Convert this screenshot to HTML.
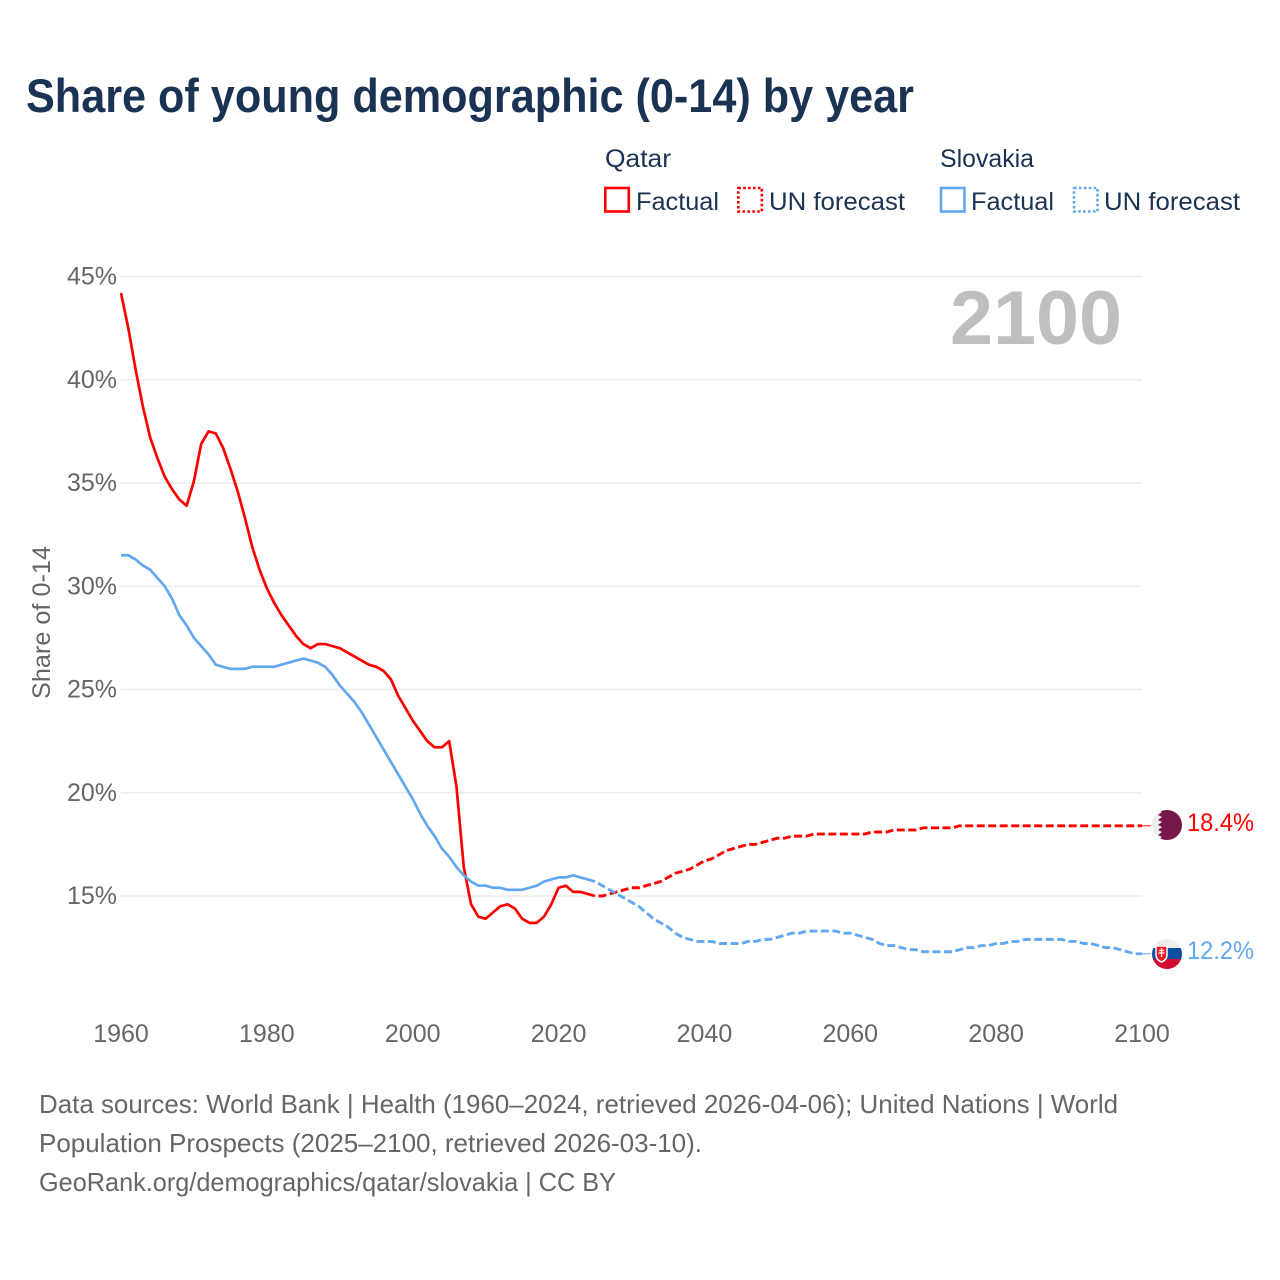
<!DOCTYPE html>
<html lang="en">
<head>
<meta charset="utf-8">
<title>Share of young demographic (0-14) by year</title>
<style>
html,body{margin:0;padding:0;background:#fff}
svg{display:block;font-family:"Liberation Sans",sans-serif}
.leg{font-size:25px;fill:#1a3352}
.foot{font-size:26px;fill:#666}
.tick{font-size:25px;fill:#666}
</style>
</head>
<body>
<svg id="chart" xmlns="http://www.w3.org/2000/svg" width="1280" height="1280" viewBox="0 0 1280 1280">
<rect width="1280" height="1280" fill="#fff"/>
<text x="26" y="112" font-size="47" font-weight="700" fill="#1a3352" textLength="888" lengthAdjust="spacingAndGlyphs">Share of young demographic (0-14) by year</text>

<g>
<text class="leg" x="605" y="167" textLength="66" lengthAdjust="spacingAndGlyphs">Qatar</text>
<rect x="605.300" y="188" width="23.500" height="23.500" fill="none" stroke="#ff0000" stroke-width="2.600"/>
<text class="leg" x="636" y="210" textLength="83" lengthAdjust="spacingAndGlyphs">Factual</text>
<rect x="738.300" y="188" width="23.500" height="23.500" fill="none" stroke="#ff0000" stroke-width="2.600" stroke-dasharray="2.600 2.300"/>
<text class="leg" x="769" y="210" textLength="136" lengthAdjust="spacingAndGlyphs">UN forecast</text>
<text class="leg" x="940" y="167" textLength="94" lengthAdjust="spacingAndGlyphs">Slovakia</text>
<rect x="941" y="188" width="23.500" height="23.500" fill="none" stroke="#62a8ee" stroke-width="2.600"/>
<text class="leg" x="971" y="210" textLength="83" lengthAdjust="spacingAndGlyphs">Factual</text>
<rect x="1074" y="188" width="23.500" height="23.500" fill="none" stroke="#62a8ee" stroke-width="2.600" stroke-dasharray="2.600 2.300"/>
<text class="leg" x="1104" y="210" textLength="136" lengthAdjust="spacingAndGlyphs">UN forecast</text>
</g>

<g id="grid"></g>
<g id="yticks"></g>
<g id="xticks"></g>

<text x="1122" y="344" font-size="76" font-weight="700" fill="#bfbfbf" text-anchor="end" textLength="172" lengthAdjust="spacingAndGlyphs">2100</text>
<text transform="translate(50,699) rotate(-90)" font-size="25" fill="#666" textLength="153" lengthAdjust="spacingAndGlyphs">Share of 0-14</text>

<g id="series"></g>

<defs>
<clipPath id="clip-qa"><circle cx="1167" cy="825" r="15"/></clipPath>
<clipPath id="clip-sk"><circle cx="1167" cy="954" r="15"/></clipPath>
</defs>
<g clip-path="url(#clip-qa)">
<rect x="1152" y="810" width="30" height="30" fill="#eeeeee"/>
<polygon points="1182,810 1158,810 1162,812 1158,815 1162,817 1158,820 1162,822 1158,825 1162,827 1158,830 1162,832 1158,835 1162,837 1158,840 1182,840" fill="#76184a"/>
</g>
<g clip-path="url(#clip-sk)">
<rect x="1152" y="939" width="30" height="9" fill="#eeeeee"/>
<rect x="1152" y="948" width="30" height="11" fill="#0b4ea2"/>
<rect x="1152" y="959" width="30" height="10" fill="#d00c33"/>
<path d="M1156 946h11v9c0 4-3 6-5.500 7-2.500-1-5.500-3-5.500-7z" fill="#ee1c25" stroke="#fff" stroke-width="1.500"/>
<path d="M1161.500 948v9M1159 950.500h5M1158.500 953h6" stroke="#fff" stroke-width="1.200" fill="none"/>
</g>

<text x="1187" y="831" font-size="25" fill="#ff0000" textLength="67" lengthAdjust="spacingAndGlyphs">18.4%</text>
<text x="1187" y="959" font-size="25" fill="#62a8ee" textLength="67" lengthAdjust="spacingAndGlyphs">12.2%</text>

<g>
<text class="foot" x="39" y="1113" textLength="1079" lengthAdjust="spacingAndGlyphs">Data sources: World Bank | Health (1960–2024, retrieved 2026-04-06); United Nations | World</text>
<text class="foot" x="39" y="1152" textLength="663" lengthAdjust="spacingAndGlyphs">Population Prospects (2025–2100, retrieved 2026-03-10).</text>
<text class="foot" x="39" y="1191" textLength="577" lengthAdjust="spacingAndGlyphs">GeoRank.org/demographics/qatar/slovakia | CC BY</text>
</g>
</svg>

<script>
const yearStart = 1960;
const forecastStartYear = 2025;
const xTickLabels = [1960, 1980, 2000, 2020, 2040, 2060, 2080, 2100];
const yTickLabels = [15, 20, 25, 30, 35, 40, 45];
const qatarFactual = [44.2,42.5,40.5,38.7,37.2,36.2,35.3,34.7,34.2,33.9,35.1,36.9,37.5,37.4,36.7,35.7,34.6,33.3,31.9,30.8,29.9,29.2,28.6,28.1,27.6,27.2,27.0,27.2,27.2,27.1,27.0,26.8,26.6,26.4,26.2,26.1,25.9,25.5,24.7,24.1,23.5,23.0,22.5,22.2,22.2,22.5,20.3,16.4,14.6,14.0,13.9,14.2,14.5,14.6,14.4,13.9,13.7,13.7,14.0,14.6,15.4,15.5,15.2,15.2,15.1,15.0];
const qatarForecast = [15.0,15.0,15.1,15.2,15.3,15.4,15.4,15.5,15.6,15.7,15.9,16.1,16.2,16.3,16.5,16.7,16.8,17.0,17.2,17.3,17.4,17.5,17.5,17.6,17.7,17.8,17.8,17.9,17.9,17.9,18.0,18.0,18.0,18.0,18.0,18.0,18.0,18.0,18.1,18.1,18.1,18.2,18.2,18.2,18.2,18.3,18.3,18.3,18.3,18.3,18.4,18.4,18.4,18.4,18.4,18.4,18.4,18.4,18.4,18.4,18.4,18.4,18.4,18.4,18.4,18.4,18.4,18.4,18.4,18.4,18.4,18.4,18.4,18.4,18.4,18.4];
const slovakiaFactual = [31.5,31.5,31.3,31.0,30.8,30.4,30.0,29.4,28.6,28.1,27.5,27.1,26.7,26.2,26.1,26.0,26.0,26.0,26.1,26.1,26.1,26.1,26.2,26.3,26.4,26.5,26.4,26.3,26.1,25.7,25.2,24.8,24.4,23.9,23.3,22.7,22.1,21.5,20.9,20.3,19.7,19.0,18.4,17.9,17.3,16.9,16.4,16.0,15.7,15.5,15.5,15.4,15.4,15.3,15.3,15.3,15.4,15.5,15.7,15.8,15.9,15.9,16.0,15.9,15.8,15.7];
const slovakiaForecast = [15.7,15.5,15.3,15.1,14.9,14.7,14.5,14.2,13.9,13.7,13.5,13.2,13.0,12.9,12.8,12.8,12.8,12.7,12.7,12.7,12.7,12.8,12.8,12.9,12.9,13.0,13.1,13.2,13.2,13.3,13.3,13.3,13.3,13.3,13.2,13.2,13.1,13.0,12.9,12.7,12.6,12.6,12.5,12.4,12.4,12.3,12.3,12.3,12.3,12.3,12.4,12.5,12.5,12.6,12.6,12.7,12.7,12.8,12.8,12.9,12.9,12.9,12.9,12.9,12.9,12.8,12.8,12.7,12.7,12.6,12.5,12.5,12.4,12.3,12.2,12.2];

const SVGNS = 'http://www.w3.org/2000/svg';
function xScale(year) { return 121 + (year - 1960) * (1142 - 121) / 140; }
function yScale(pct) { return 896 - (pct - 15) * (896 - 276.5) / 30; }
function pathFrom(values, startYear) {
  return values.map(function (v, i) {
    return (i ? 'L' : 'M') + xScale(startYear + i).toFixed(2) + ' ' + yScale(v).toFixed(2);
  }).join('');
}
const gridGroup = document.getElementById('grid');
const yGroup = document.getElementById('yticks');
const xGroup = document.getElementById('xticks');
const seriesGroup = document.getElementById('series');

yTickLabels.forEach(function (t) {
  const line = document.createElementNS(SVGNS, 'line');
  
  
  line.setAttribute('x1', xScale(1960));
  line.setAttribute('x2', xScale(2100));
  line.setAttribute('y1', yScale(t));
  line.setAttribute('y2', yScale(t));
  line.setAttribute('stroke', '#ececec');
  line.setAttribute('stroke-width', '1.5');
  gridGroup.appendChild(line);
  const label = document.createElementNS(SVGNS, 'text');
  
  
  label.setAttribute('class', 'tick');
  label.setAttribute('x', 117);
  label.setAttribute('y', yScale(t) + 8);
  label.setAttribute('text-anchor', 'end');
  label.textContent = t + '%';
  yGroup.appendChild(label);
});

xTickLabels.forEach(function (t) {
  const label = document.createElementNS(SVGNS, 'text');
  
  
  label.setAttribute('class', 'tick');
  label.setAttribute('x', xScale(t));
  label.setAttribute('y', 1042);
  label.setAttribute('text-anchor', 'middle');
  label.textContent = t;
  xGroup.appendChild(label);
});

function addLine(values, startYear, color, dashed, name) {
  const p = document.createElementNS(SVGNS, 'path');
  
  
  p.setAttribute('d', pathFrom(values, startYear));
  p.setAttribute('fill', 'none');
  p.setAttribute('stroke', color);
  p.setAttribute('stroke-width', dashed ? '2.9' : '2.7');
  p.setAttribute('stroke-linejoin', 'round');
  if (dashed) {
    p.setAttribute('stroke-dasharray', '8 3.5');
    p.setAttribute('stroke-dashoffset', '8');
  }
  seriesGroup.appendChild(p);
}
function addConnector(value, color, name) {
  const c = document.createElementNS(SVGNS, 'line');
  
  
  c.setAttribute('x1', xScale(2100));
  c.setAttribute('x2', 1151);
  c.setAttribute('y1', yScale(value));
  c.setAttribute('y2', yScale(value));
  c.setAttribute('stroke', color);
  c.setAttribute('stroke-width', '1');
  seriesGroup.appendChild(c);
}
addLine(qatarFactual, yearStart, '#ff0000', false, 'qatar-factual-line');
addLine(slovakiaFactual, yearStart, '#62a8ee', false, 'slovakia-factual-line');
addLine(qatarForecast, forecastStartYear, '#ff0000', true, 'qatar-forecast-line');
addLine(slovakiaForecast, forecastStartYear, '#62a8ee', true, 'slovakia-forecast-line');
addConnector(qatarForecast[qatarForecast.length - 1], '#ff0000', 'qatar-end-connector');
addConnector(slovakiaForecast[slovakiaForecast.length - 1], '#62a8ee', 'slovakia-end-connector');
</script>
</body>
</html>
